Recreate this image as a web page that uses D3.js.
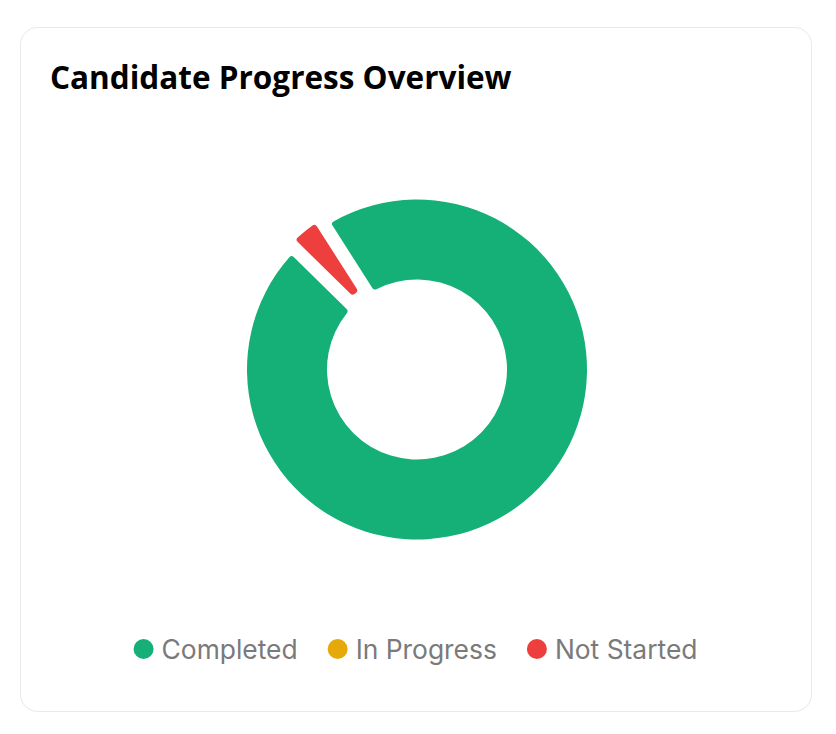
<!DOCTYPE html>
<html>
<head>
<meta charset="utf-8">
<script src="https://cdn.jsdelivr.net/npm/d3@7"></script>
<style>
  html, body { margin: 0; padding: 0; background: #fff; }
  svg { display: block; }
</style>
</head>
<body>
<div id="chart"></div>
<script>
// chart data
const categories = ["Completed", "In Progress", "Not Started"];
const counts = [27, 0, 1];
const colors = ["#14b077", "#e5a90a", "#ee3f3f"];

const width = 836;
const height = 734;

const svg = d3.select("#chart").append("svg")
  .attr("width", width)
  .attr("height", height);

// card
svg.append("rect")
  .attr("x", 20.5).attr("y", 27.5)
  .attr("width", 791).attr("height", 684)
  .attr("rx", 17)
  .attr("fill", "#fff")
  .attr("stroke", "#e9e9e9");

svg.append("text")
  .attr("x", 50).attr("y", 89)
  .attr("font-family", "'Open Sans', sans-serif")
  .attr("font-weight", 700)
  .attr("font-size", 31.5)
  .attr("fill", "#000")
  .text("Candidate Progress Overview");

// donut
const cx = 417, cy = 369.5;
const outer = 170, inner = 90;
const rot = -32.6 * Math.PI / 180;
const hoverOffset = 8;

const rows = categories.map((c, i) => ({ name: c, value: counts[i], color: colors[i] }));

const pie = d3.pie().sort(null).value(d => d.value)
  .startAngle(rot).endAngle(rot + 2 * Math.PI);

const arc = d3.arc()
  .innerRadius(inner)
  .outerRadius(outer)
  .padAngle(0.066)
  .cornerRadius(3);

const g = svg.append("g").attr("transform", "translate(" + cx + "," + cy + ")");

g.selectAll(".arc")
  .data(pie(rows.filter(d => d.value > 0)))
  .enter().append("path")
    .attr("class", "arc")
    .attr("d", arc)
    .attr("fill", d => d.data.color)
    .attr("transform", function(d) {
      // the small slice is pulled out a little, like a hovered slice
      if (d.data.name !== "Not Started") return null;
      const mid = (d.startAngle + d.endAngle) / 2;
      return "translate(" + (Math.sin(mid) * hoverOffset) + "," + (-Math.cos(mid) * hoverOffset) + ")";
    });

// legend
const legend = svg.append("g");
let x = 0;
rows.forEach(function(d) {
  const item = legend.append("g").attr("transform", "translate(" + x + ",0)");
  item.append("circle").attr("cx", 10).attr("cy", 649).attr("r", 10).attr("fill", d.color);
  const t = item.append("text")
    .attr("x", 28).attr("y", 659)
    .attr("font-family", "Inter, sans-serif")
    .attr("font-size", 26.4)
    .attr("fill", "#7a7a7a")
    .text(d.name);
  x += 28 + t.node().getComputedTextLength() + 30;
});
const legendWidth = x - 30;
legend.attr("transform", "translate(" + (415.5 - legendWidth / 2) + ",0)");
</script>
</body>
</html>
